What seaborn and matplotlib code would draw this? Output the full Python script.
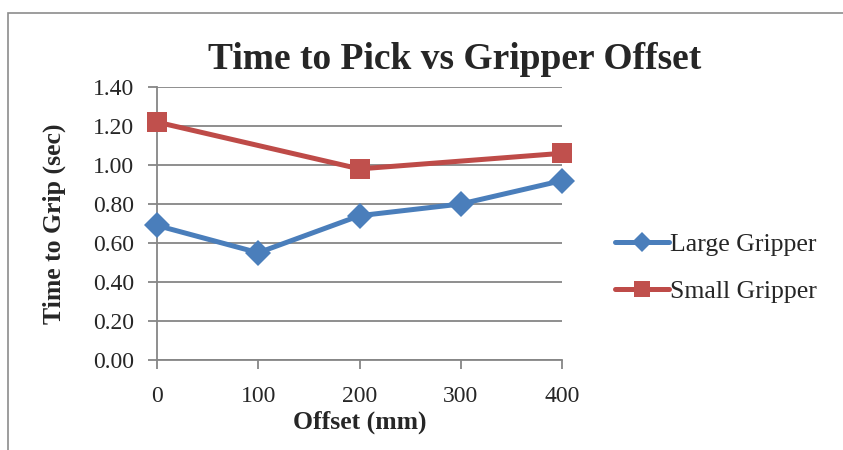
import pandas as pd
import numpy as np
import matplotlib
matplotlib.use("Agg")
import matplotlib.pyplot as plt
import seaborn as sns
from matplotlib.patches import Rectangle

# Data
offsets_large = [0, 100, 200, 300, 400]
time_large = [0.69, 0.55, 0.74, 0.80, 0.92]
offsets_small = [0, 200, 400]
time_small = [1.22, 0.98, 1.06]
x_ticks = [0, 100, 200, 300, 400]
y_ticks = [0.0, 0.2, 0.4, 0.6, 0.8, 1.0, 1.2, 1.4]

df = pd.concat([
    pd.DataFrame({"Offset": offsets_large, "Time": time_large, "Gripper": "Large Gripper"}),
    pd.DataFrame({"Offset": offsets_small, "Time": time_small, "Gripper": "Small Gripper"}),
], ignore_index=True)

sns.set_style("white")
plt.rcParams["font.family"] = ["Liberation Serif", "DejaVu Serif"]

grid_col = "#868686"
fig = plt.figure(figsize=(8.43, 4.5), dpi=100)
ax = fig.add_axes([157 / 843, 1 - 360 / 450, (562 - 157) / 843, (360 - 87) / 450])

# outer chart frame (only top and left visible in the crop)
fig.patches.append(Rectangle((8 / 843, -0.1), 1.2, 1 - 13 / 450 + 0.1, transform=fig.transFigure,
                             fill=False, edgecolor="#8c8c8c", linewidth=1.2))

sns.lineplot(data=df, x="Offset", y="Time", hue="Gripper", style="Gripper",
             palette={"Large Gripper": "#4A7EBB", "Small Gripper": "#BE4B48"},
             markers={"Large Gripper": "D", "Small Gripper": "s"}, dashes=False,
             linewidth=3.6, markersize=13, markeredgewidth=0, ax=ax, zorder=3)
for ln in ax.lines:
    ln.set_clip_on(False)
    if ln.get_marker() == "s":
        ln.set_markersize(14)
        ln.set_markerfacecolor("#C0504D")

ax.set_xlim(0, 400)
ax.set_ylim(0, 1.4)
ax.set_xticks(x_ticks)
ax.set_yticks(y_ticks)
ax.set_yticklabels([f"{v:.2f}" for v in y_ticks])
ax.yaxis.grid(True, color=grid_col, linewidth=1.3)
ax.set_axisbelow(True)
for s in ["top", "right"]:
    ax.spines[s].set_visible(False)
for s in ["left", "bottom"]:
    ax.spines[s].set_color(grid_col)
    ax.spines[s].set_linewidth(1.3)
ax.tick_params(axis="both", which="both", direction="out", length=6.5, width=1.3,
               color=grid_col, labelsize=17, pad=4)
ax.tick_params(axis="x", bottom=True, pad=12)
ax.tick_params(axis="y", left=True, pad=10)

ax.set_xlabel("Offset (mm)", fontsize=18.5, fontweight="bold", labelpad=3)
ax.set_ylabel("Time to Grip (sec)", fontsize=18.5, fontweight="bold", labelpad=19)
fig.text(455 / 843, 1 - 59 / 450, "Time to Pick vs Gripper Offset", ha="center", va="center",
         fontsize=27, fontweight="bold")

handles, labels = ax.get_legend_handles_labels()
ax.legend(handles, labels, loc="center left", bbox_to_anchor=(592 / 843, 1 - 268 / 450),
          bbox_transform=fig.transFigure, frameon=False, fontsize=18.5, handlelength=2.1,
          handletextpad=0.05, labelspacing=0.95, markerscale=0.8)

fig.savefig("out.png", dpi=100)
